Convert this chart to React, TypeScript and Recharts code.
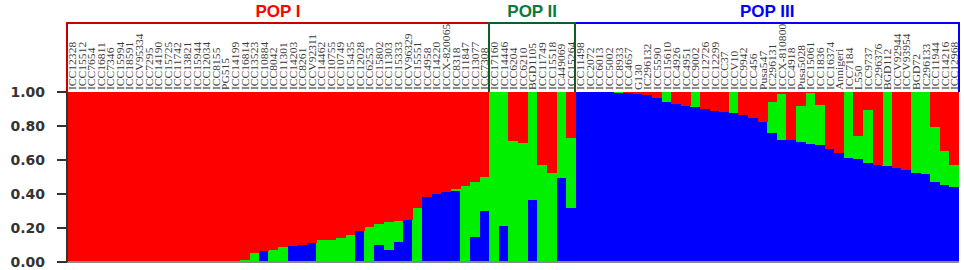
import { BarChart, Bar, XAxis, YAxis, ReferenceArea, ReferenceLine } from 'recharts';

// accession names, in plot order, one list per population
const pop1Names = [
  'ICC12328', 'ICC15512', 'ICC7654', 'ICC16811', 'ICC7346', 'ICC15994', 'ICC18591', 'ICCV95334',
  'ICC7295', 'ICC14190', 'ICC15725', 'ICC11742', 'ICC13821', 'ICC15944', 'ICC12034', 'ICC8155',
  'PG515', 'ICC14199', 'ICC16814', 'ICC13523', 'ICC10884', 'ICC8042', 'ICC11301', 'ICC14203',
  'ICC8261', 'ICCV92311', 'ICC14462', 'ICC10755', 'ICC10749', 'ICC15435', 'ICC12028', 'ICC6253',
  'ICC15802', 'ICC11303', 'ICC15333', 'ICCV96329', 'ICC15551', 'ICC4958', 'ICC14220', 'ICCX-820065',
  'ICC8318', 'ICC11847', 'ICC13077', 'ICC7308',
];
const pop2Names = [
  'ICC17160', 'ICC14446', 'ICC6204', 'ICC6210', 'BGD1105', 'ICC11749', 'ICC15518', 'IC449069', 'ICC15264',
];
const pop3Names = [
  'ICC11498', 'ICC2072', 'ICC6013', 'ICC5002', 'ICC8933', 'ICC4657', 'G130', 'IC296132',
  'ICC5590', 'ICC15610', 'ICC4926', 'ICC4951', 'ICC9002', 'ICC12726', 'ICC12299', 'ICCC37',
  'ICCV10', 'ICC9942', 'ICC456', 'Pusa547', 'IC296131', 'ICCX-810800', 'ICC4918', 'Pusa5028',
  'ICC15061', 'ICC1836', 'ICC16374', 'Annigeri', 'ICC7184', 'L550', 'ICC9737', 'IC296376',
  'BGD112', 'ICCV92944', 'ICCV93954', 'BGD72', 'IC296133', 'ICC11944', 'ICC14216', 'ICC12968',
];

// membership coefficients (Q) per cluster
const pop1Blue = [
  0, 0, 0, 0, 0, 0, 0, 0, 0, 0, 0, 0, 0, 0, 0, 0, 0, 0,
  0, 0, 0.066, 0, 0, 0.097, 0.1, 0.11, 0, 0, 0, 0, 0.183, 0, 0.1, 0.068, 0.12, 0.25,
  0, 0.38, 0.4, 0.413, 0.42, 0, 0.15, 0.3,
];
const pop1Green = [
  0, 0, 0, 0, 0, 0, 0, 0, 0, 0, 0, 0, 0, 0, 0, 0, 0, 0,
  0.013, 0.053, 0, 0.072, 0.088, 0, 0, 0, 0.127, 0.13, 0.14, 0.158, 0, 0.205, 0.125, 0.166, 0.124, 0,
  0.32, 0, 0, 0, 0.008, 0.445, 0.32, 0.2,
];
const pop1Red = [
  1, 1, 1, 1, 1, 1, 1, 1, 1, 1, 1, 1, 1, 1, 1, 1, 1, 1,
  0.987, 0.947, 0.934, 0.928, 0.912, 0.903, 0.9, 0.89, 0.873, 0.87, 0.86, 0.842, 0.817, 0.795, 0.775, 0.766, 0.756, 0.75,
  0.68, 0.62, 0.6, 0.587, 0.572, 0.555, 0.53, 0.5,
];

const pop2Blue = [0, 0.21, 0, 0, 0.367, 0, 0, 0.494, 0.317];
const pop2Green = [1, 0.79, 0.71, 0.7, 0.633, 0.572, 0.525, 0.506, 0.41];
const pop2Red = [0, 0, 0.29, 0.3, 0, 0.428, 0.475, 0, 0.273];

const pop3Blue = [
  1, 1, 1, 1, 0.995, 0.993, 0.99, 0.985, 0.965, 0.94, 0.928, 0.92, 0.914, 0.9, 0.89, 0.885,
  0.875, 0.864, 0.85, 0.825, 0.757, 0.72, 0.716, 0.705, 0.695, 0.688, 0.664, 0.642, 0.613, 0.605,
  0.583, 0.569, 0.567, 0.552, 0.544, 0.524, 0.518, 0.468, 0.451, 0.442,
];
const pop3Green = [
  0, 0, 0, 0, 0.005, 0, 0, 0, 0, 0.06, 0, 0, 0.086, 0, 0, 0,
  0.125, 0, 0, 0, 0.185, 0.27, 0, 0.212, 0.3, 0.236, 0, 0, 0.387, 0.137,
  0.311, 0, 0.433, 0, 0, 0.476, 0.482, 0.326, 0.2, 0.13,
];
const pop3Red = [
  0, 0, 0, 0, 0, 0.007, 0.01, 0.015, 0.035, 0, 0.072, 0.08, 0, 0.1, 0.11, 0.115,
  0, 0.136, 0.15, 0.175, 0.058, 0.01, 0.284, 0.083, 0.005, 0.076, 0.336, 0.358, 0, 0.258,
  0.106, 0.431, 0, 0.448, 0.456, 0, 0, 0.206, 0.349, 0.428,
];

const yTicks = [0, 0.2, 0.4, 0.6, 0.8, 1];

const pops = [
  { title: 'POP I', names: pop1Names, blue: pop1Blue, green: pop1Green, red: pop1Red },
  { title: 'POP II', names: pop2Names, blue: pop2Blue, green: pop2Green, red: pop2Red },
  { title: 'POP III', names: pop3Names, blue: pop3Blue, green: pop3Green, red: pop3Red },
];

const data = pops.flatMap((p) =>
  p.names.map((name, i) => ({ name, blue: p.blue[i], green: p.green[i], red: p.red[i] }))
);

// box + title colours for each population
const popStyle: { [k: string]: { title: string; box: string } } = {
  'POP I': { title: '#ff0000', box: '#c80000' },
  'POP II': { title: '#0b7a3b', box: '#0d5e2a' },
  'POP III': { title: '#0000ff', box: '#0000ff' },
};

function NameTick(props: any) {
  const { x, y, payload } = props;
  return (
    <text
      x={0}
      y={0}
      transform={`translate(${x + 1},${y}) rotate(-90) scale(1.22,1)`}
      textAnchor="start"
      dominantBaseline="central"
      fontFamily="'Liberation Serif', 'Times New Roman', serif"
      fontSize={9.5}
      fill="#3a3a3a"
    >
      {payload.value}
    </text>
  );
}

// open-bottomed box around a population's labels
function OpenBox(props: any) {
  const { x, y, width, height, stroke } = props;
  return (
    <path
      d={`M${x},${y + height} V${y} H${x + width} V${y + height}`}
      fill="none"
      stroke={stroke}
      strokeWidth={2}
    />
  );
}

export default function App() {
  // draw POP II last so its green border sits over the shared edges
  const drawOrder = [pops[0], pops[2], pops[1]];

  return (
    <div
      style={{
        position: 'absolute',
        left: 0,
        top: 0,
        width: 964,
        height: 270,
        background: '#fff',
        shapeRendering: 'crispEdges',
      }}
    >
      <BarChart
        width={964}
        height={270}
        data={data}
        margin={{ top: 0, right: 5, bottom: 8, left: 0 }}
        barCategoryGap={0}
        barGap={0}
      >
        <XAxis
          dataKey="name"
          orientation="top"
          height={92}
          interval={0}
          axisLine={false}
          tickLine={false}
          tickSize={0}
          tickMargin={2}
          tick={(p: any) => <NameTick {...p} />}
        />
        <YAxis
          type="number"
          domain={[0, 1]}
          allowDataOverflow
          ticks={yTicks}
          tickFormatter={(v: number) => v.toFixed(2)}
          width={67}
          tickSize={10}
          tickMargin={12}
          tick={{ fill: '#333', fontSize: 14, fontWeight: 700, fontFamily: 'DejaVu Sans' }}
          axisLine={{ stroke: '#333', strokeWidth: 1.5 }}
          tickLine={{ stroke: '#333', strokeWidth: 1.5 }}
        />
        <Bar dataKey="blue" stackId="q" fill="#0000ff" isAnimationActive={false} />
        <Bar dataKey="green" stackId="q" fill="#00f000" isAnimationActive={false} />
        <Bar dataKey="red" stackId="q" fill="#ff0000" isAnimationActive={false} />
        <ReferenceLine y={0} stroke="#8a8a8a" strokeWidth={1.5} />
        {drawOrder.map((p) => (
          <ReferenceArea
            key={p.title}
            x1={p.names[0]}
            x2={p.names[p.names.length - 1]}
            y1={1}
            y2={1.404}
            ifOverflow="visible"
            stroke={popStyle[p.title].box}
            shape={(sp: any) => <OpenBox {...sp} stroke={popStyle[p.title].box} />}
            label={{
              value: p.title,
              position: 'top',
              offset: 6,
              fill: popStyle[p.title].title,
              fontSize: 17,
              fontWeight: 700,
              fontFamily: "'Liberation Sans', Arial, sans-serif",
            }}
          />
        ))}
      </BarChart>
    </div>
  );
}
